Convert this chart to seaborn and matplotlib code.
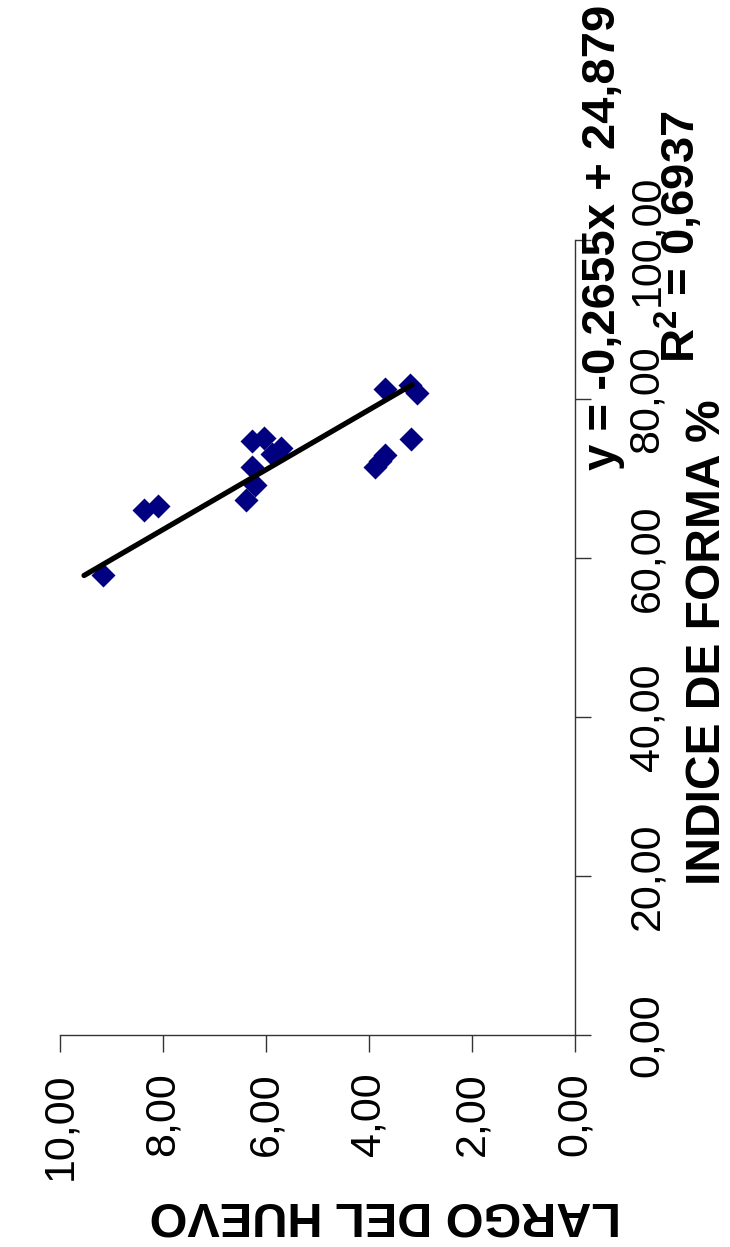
import matplotlib
matplotlib.use("Agg")
import matplotlib.pyplot as plt
import seaborn as sns
import numpy as np
from matplotlib.ticker import FuncFormatter, MultipleLocator

# Data: LARGO DEL HUEVO (y of original chart) vs INDICE DE FORMA % (x of original chart)
indice = [57.8, 66.1, 66.5, 67.3, 69.2, 71.4, 74.7, 75.1, 73.8, 73.1,
          71.4, 72.2, 73.0, 81.3, 75.0, 81.8, 80.7]
largo = [9.17, 8.36, 8.09, 6.39, 6.21, 6.28, 6.28, 6.03, 5.70, 5.88,
         3.89, 3.79, 3.69, 3.69, 3.19, 3.20, 3.07]
slope = -0.2655
intercept = 24.879
eq_text = "y = -0,2655x + 24,879"
r2_text = "0,6937"
x_label = "INDICE DE FORMA %"
y_label = "LARGO DEL HUEVO"

sns.set_theme(style="white")
plt.rcParams['font.family'] = ['Liberation Sans', 'DejaVu Sans']
plt.rcParams['text.color'] = 'black'
plt.rcParams['axes.labelcolor'] = 'black'
plt.rcParams['xtick.color'] = 'black'
plt.rcParams['ytick.color'] = 'black'
plt.rcParams['mathtext.fontset'] = 'custom'
plt.rcParams['mathtext.rm'] = 'Liberation Sans:bold'
plt.rcParams['mathtext.bf'] = 'Liberation Sans:bold'
plt.rcParams['mathtext.it'] = 'Liberation Sans:bold'

W, H = 730, 1247
fig = plt.figure(figsize=(W / 100, H / 100), dpi=100)
fig.patch.set_facecolor("white")
ax = fig.add_axes([60 / W, 1 - 1035 / H, (575 - 60) / W, (1035 - 240) / H])
ax.set_facecolor("white")

# Chart is rotated: horizontal = LARGO (inverted), vertical = INDICE
sns.scatterplot(x=largo, y=indice, marker="D", color="#000080", s=150,
                linewidth=0, ax=ax, zorder=3)

iline = np.array([min(indice), max(indice)])
lline = slope * iline + intercept
ax.plot(lline, iline, color="black", linewidth=3.8, solid_capstyle="round", zorder=4)

ax.set_xlim(10, 0)
ax.set_ylim(0, 100)
ax.xaxis.set_major_locator(MultipleLocator(2))
ax.yaxis.set_major_locator(MultipleLocator(20))
fmt = FuncFormatter(lambda v, p: f"{v:.2f}".replace(".", ","))
ax.xaxis.set_major_formatter(fmt)
ax.yaxis.set_major_formatter(fmt)

for s in ["left", "top"]:
    ax.spines[s].set_visible(False)
for s in ["right", "bottom"]:
    ax.spines[s].set_visible(True)
    ax.spines[s].set_color("#333333")
    ax.spines[s].set_linewidth(1.0)

ax.yaxis.tick_right()
ax.tick_params(axis="x", which="major", direction="out", length=12, width=1,
               color="#333333", pad=15, labelsize=31, labelrotation=90, bottom=True,
               labelcolor="black")
ax.tick_params(axis="y", which="major", direction="out", length=11.5, width=1,
               color="#333333", pad=26, labelsize=31, labelrotation=90, right=True, left=False,
               labelcolor="black")
for lbl in ax.get_xticklabels():
    lbl.set_va("top")
    lbl.set_ha("center")
for lbl in ax.get_yticklabels():
    lbl.set_va("center")
    lbl.set_ha("left")

ax.yaxis.set_label_position("right")
ax.set_ylabel(x_label, fontsize=34.5, fontweight="bold", color="black")
ax.yaxis.label.set_rotation(90)
ax.yaxis.label.set_ha("center")
ax.yaxis.label.set_va("center")
ax.yaxis.label.set_rotation_mode("default")
ax.yaxis.set_label_coords((708 - 60) / 515, (1035 - 642) / 795)

ax.set_xlabel(y_label, fontsize=35, fontweight="bold", color="black")
ax.xaxis.label.set_rotation(180)
ax.xaxis.label.set_ha("center")
ax.xaxis.label.set_va("center")
ax.xaxis.set_label_coords((385 - 60) / 515, (1035 - 1215) / 795)

fig.text(643 / W, 1 - 237 / H, eq_text + "\n" + r"$\mathbf{R}^\mathbf{2}$" + " = " + r2_text,
         rotation=90, ha="center", va="center", multialignment="center",
         fontsize=34, fontweight="bold", linespacing=1.66, color="black")

ax.grid(False)
fig.savefig("out.png", dpi=100, facecolor="white")
